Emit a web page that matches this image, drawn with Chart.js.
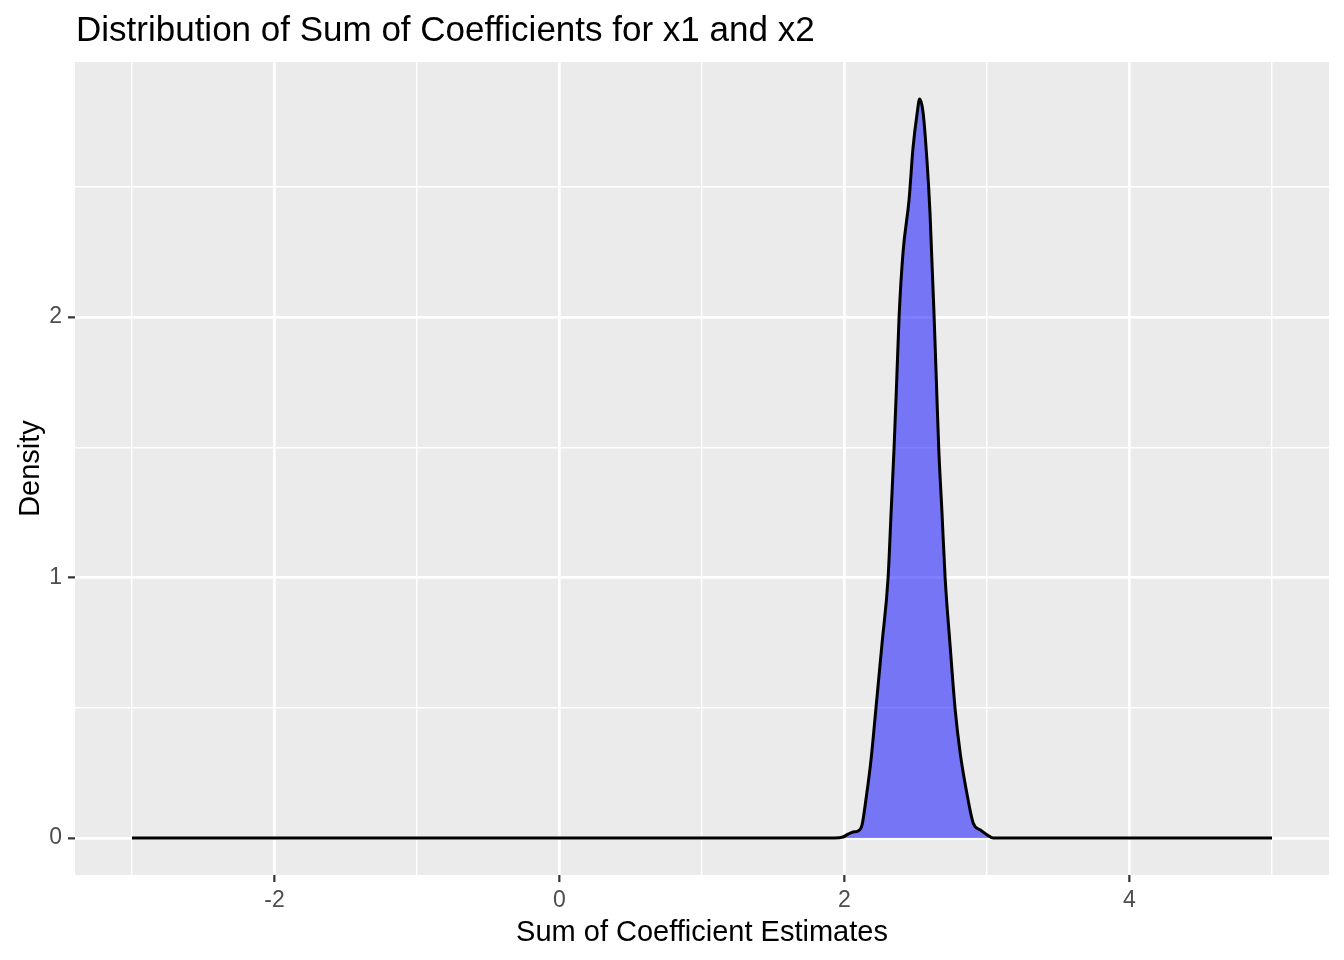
<!DOCTYPE html>
<html>
<head>
<meta charset="utf-8">
<script src="https://cdn.jsdelivr.net/npm/chart.js@4.4.1/dist/chart.umd.min.js"></script>
<style>
  html, body { margin: 0; padding: 0; background: #ffffff; }
  #wrap { width: 1344px; height: 960px; position: relative; }
</style>
</head>
<body>
<div id="wrap"><canvas id="c" width="1344" height="960"></canvas></div>
<script>
// ---- Data ----
const titleText = "Distribution of Sum of Coefficients for x1 and x2";
const xAxisTitle = "Sum of Coefficient Estimates";
const yAxisTitle = "Density";

const densityX = [-3.0, 1.90, 1.933, 1.989, 2.025, 2.060, 2.095, 2.123, 2.151, 2.186, 2.221, 2.264, 2.306, 2.327, 2.348, 2.366, 2.383, 2.411, 2.453, 2.481, 2.510, 2.527, 2.552, 2.580, 2.600, 2.629, 2.645, 2.661, 2.684, 2.706, 2.742, 2.777, 2.812, 2.861, 2.903, 2.953, 3.002, 3.044, 3.10, 5.0];
const densityY = [0.0, 0.0, 0.0, 0.004, 0.015, 0.023, 0.027, 0.050, 0.150, 0.300, 0.500, 0.750, 1.000, 1.250, 1.500, 1.750, 2.000, 2.250, 2.450, 2.650, 2.783, 2.837, 2.783, 2.591, 2.400, 2.000, 1.750, 1.500, 1.250, 1.000, 0.733, 0.491, 0.326, 0.165, 0.058, 0.031, 0.012, 0.0, 0.0, 0.0];

const xMajorTicks = [-2, 0, 2, 4];
const xMinorTicks = [-3, -1, 1, 3, 5];
const yMajorTicks = [0, 1, 2];
const yMinorTicks = [0.5, 1.5, 2.5];

const xLimits = [-3.4, 5.4];
const yLimits = [-0.1419, 2.979];

// ---- Styling ----
const FONT = "'Liberation Sans', Arial, Helvetica, sans-serif";
const PANEL_BG = "#EBEBEB";

const points = densityX.map((x, i) => ({ x: x, y: densityY[i] }));

const panelPlugin = {
  id: 'panelBg',
  beforeDraw(chart) {
    const { ctx, chartArea: a } = chart;
    ctx.save();
    ctx.fillStyle = PANEL_BG;
    ctx.fillRect(a.left, a.top, a.right - a.left, a.bottom - a.top);
    ctx.restore();
  },
  afterDraw(chart) {
    const { ctx, chartArea: a } = chart;
    ctx.save();
    ctx.fillStyle = '#000000';
    ctx.font = "35px " + FONT;
    ctx.textAlign = 'left';
    ctx.textBaseline = 'alphabetic';
    ctx.fillText(titleText, a.left + 1, 41);
    ctx.font = "29px " + FONT;
    ctx.textAlign = 'center';
    ctx.fillText(xAxisTitle, (a.left + a.right) / 2, 941);
    ctx.translate(39, (a.top + a.bottom) / 2);
    ctx.rotate(-Math.PI / 2);
    ctx.fillText(yAxisTitle, 0, 0);
    ctx.restore();
  }
};

function buildTicks(major, minor) {
  return function (scale) {
    const all = major.concat(minor).sort((a, b) => a - b);
    scale.ticks = all.map(v => ({ value: v }));
  };
}
const isMajor = (arr) => (ctx) => ctx.tick && arr.includes(ctx.tick.value);

new Chart(document.getElementById('c'), {
  type: 'line',
  data: {
    datasets: [{
      data: points,
      borderColor: '#000000',
      borderWidth: 3,
      backgroundColor: 'rgba(0,0,255,0.5)',
      fill: 'origin',
      pointRadius: 0,
      cubicInterpolationMode: 'monotone',
      clip: false
    }]
  },
  options: {
    responsive: false,
    animation: false,
    devicePixelRatio: 1,
    layout: { padding: { top: 62, right: 15, left: 0, bottom: 0 } },
    plugins: { legend: { display: false }, tooltip: { enabled: false }, title: { display: false } },
    scales: {
      x: {
        type: 'linear',
        min: xLimits[0],
        max: xLimits[1],
        afterBuildTicks: buildTicks(xMajorTicks, xMinorTicks),
        afterFit: (s) => { s.height = 85; },
        border: { display: false },
        grid: {
          color: '#FFFFFF',
          lineWidth: (c) => isMajor(xMajorTicks)(c) ? 2.7 : 1.4,
          drawTicks: true,
          tickLength: 7,
          tickWidth: 2.2,
          tickColor: (c) => isMajor(xMajorTicks)(c) ? '#333333' : 'rgba(0,0,0,0)'
        },
        ticks: {
          autoSkip: false,
          maxRotation: 0,
          padding: 5,
          color: '#4D4D4D',
          font: { family: FONT, size: 23 },
          callback: (v) => xMajorTicks.includes(v) ? String(v) : ''
        }
      },
      y: {
        type: 'linear',
        min: yLimits[0],
        max: yLimits[1],
        afterBuildTicks: buildTicks(yMajorTicks, yMinorTicks),
        afterFit: (s) => { s.width = 75; },
        border: { display: false },
        grid: {
          color: '#FFFFFF',
          lineWidth: (c) => isMajor(yMajorTicks)(c) ? 2.7 : 1.4,
          drawTicks: true,
          tickLength: 7,
          tickWidth: 2.2,
          tickColor: (c) => isMajor(yMajorTicks)(c) ? '#333333' : 'rgba(0,0,0,0)'
        },
        ticks: {
          autoSkip: false,
          padding: 6,
          color: '#4D4D4D',
          font: { family: FONT, size: 23 },
          callback: (v) => yMajorTicks.includes(v) ? String(v) : ''
        }
      }
    }
  },
  plugins: [panelPlugin]
});
</script>
</body>
</html>
